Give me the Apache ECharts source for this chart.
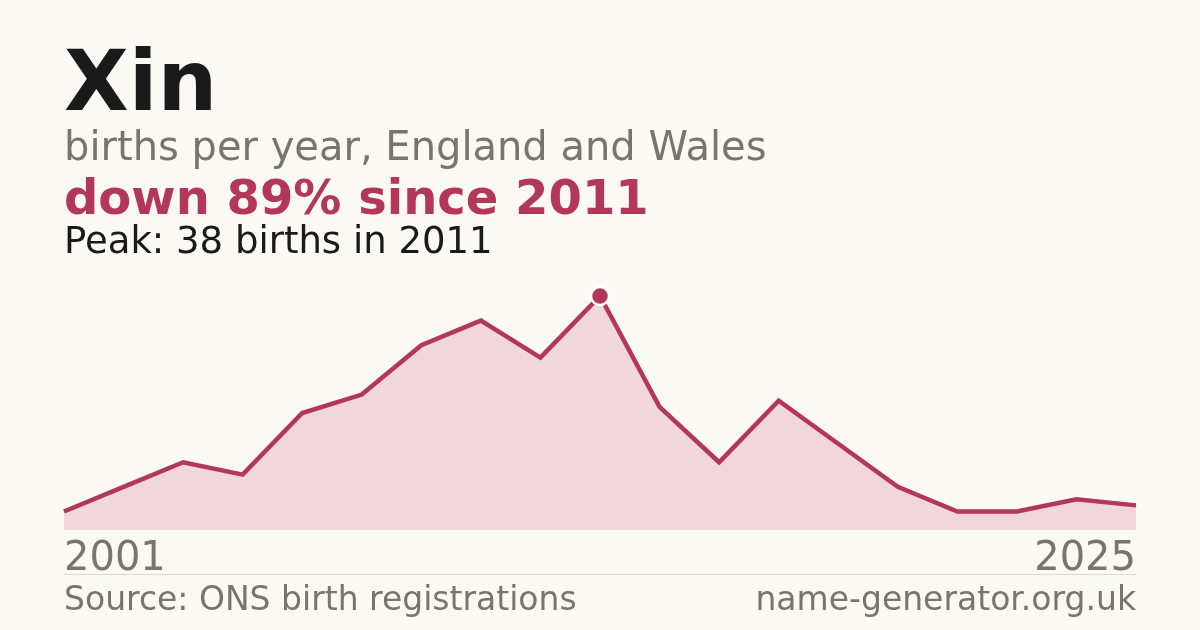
<!DOCTYPE html>
<html><head><meta charset="utf-8">
<script src="https://cdn.jsdelivr.net/npm/echarts@6/dist/echarts.min.js"></script>
<style>html,body{margin:0;padding:0;background:#faf9f4;}#c{width:1200px;height:630px;}</style>
</head><body><div id="c"></div>
<script>
const years = ['2001','2002','2003','2004','2005','2006','2007','2008','2010','2011','2012','2013','2014','2016','2018','2019','2021','2023','2025'];
const births = [3,7,11,9,19,22,30,34,28,38,20,11,21,14,7,3,3,5,4];
const titleText = 'Xin';
const subtitleText = 'births per year, England and Wales';
const changeText = 'down 89% since 2011';
const peakText = 'Peak: 38 births in 2011';
const sourceText = 'Source: ONS birth registrations';
const siteText = 'name-generator.org.uk';

const peakVal = Math.max(...births);
const peakIdx = births.indexOf(peakVal);
const peakData = births.map((v,i)=> i===peakIdx ? v : null);
const last = years.length-1;
const F = 'DejaVu Sans';
const RED = '#b3375a';
const GREY = '#7a746c';

const chart = echarts.init(document.getElementById('c'));
chart.setOption({
  backgroundColor:'#faf9f4',
  animation:false,
  grid:{left:64,right:64,top:296,bottom:100},
  xAxis:{type:'category',data:years,boundaryGap:false,
    axisLine:{show:false},axisTick:{show:false},splitLine:{show:false},
    axisLabel:{interval:(i)=>i===0||i===last,fontFamily:F,fontSize:40,color:GREY,margin:10,
      alignMinLabel:'left',alignMaxLabel:'right'}},
  yAxis:{type:'value',min:0,max:peakVal,show:false,splitLine:{show:false}},
  series:[
    {type:'line',data:births,symbol:'none',
      lineStyle:{color:RED,width:4.5,join:'miter'},
      areaStyle:{color:'#f1d6dc',opacity:1},z:2},
    {type:'scatter',data:peakData,symbol:'circle',symbolSize:18,
      itemStyle:{color:RED,borderColor:'#ffffff',borderWidth:2.5,opacity:1},z:5}
  ],
  graphic:[
    {type:'text',left:64,top:46,style:{text:titleText,fontFamily:F,fontWeight:'bold',fontSize:84,fill:'#1a1a1a'}},
    {type:'text',left:64,top:130,style:{text:subtitleText,fontFamily:F,fontSize:40,fill:GREY}},
    {type:'text',left:64,top:178,style:{text:changeText,fontFamily:F,fontWeight:'bold',fontSize:48,fill:RED}},
    {type:'text',left:64,top:225,style:{text:peakText,fontFamily:F,fontSize:37,fill:'#1a1a1a'}},
    {type:'rect',shape:{x:64,y:574,width:1072,height:1},style:{fill:'#dedad2'}},
    {type:'text',left:64,top:585,style:{text:sourceText,fontFamily:F,fontSize:33,fill:GREY}},
    {type:'text',right:64,top:585,style:{text:siteText,fontFamily:F,fontSize:33,fill:GREY}}
  ]
});
</script></body></html>
